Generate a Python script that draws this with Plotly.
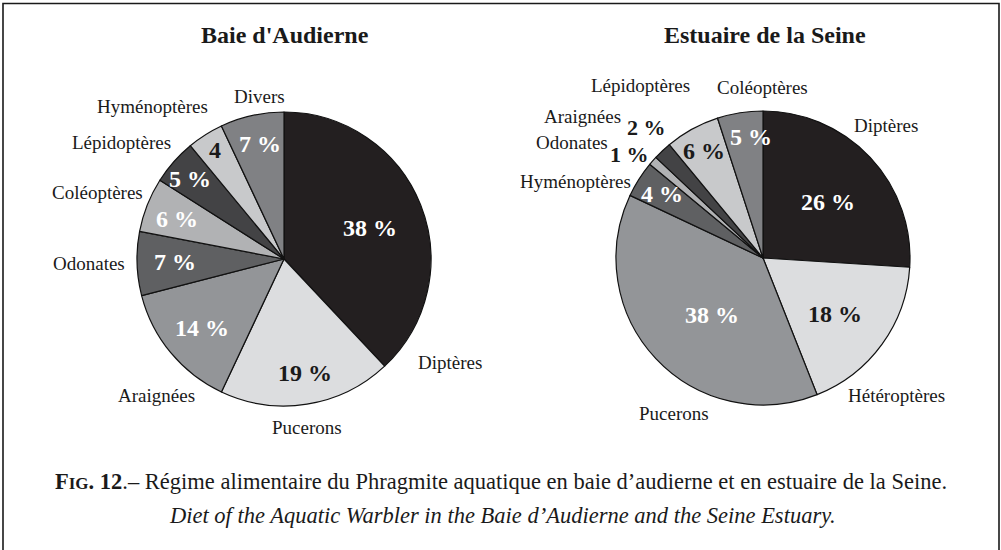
import math
import plotly.graph_objects as go

# ---------------- data ----------------
audierne_labels = ["Diptères", "Pucerons", "Araignées", "Odonates", "Coléoptères",
                   "Lépidoptères", "Hyménoptères", "Divers"]
audierne_values = [38, 19, 14, 7, 6, 5, 4, 7]
audierne_text = ["38 %", "19 %", "14 %", "7 %", "6 %", "5 %", "4", "7 %"]

seine_labels = ["Diptères", "Hétéroptères", "Pucerons", "Hyménoptères", "Odonates",
                "Araignées", "Lépidoptères", "Coléoptères"]
seine_values = [26, 18, 38, 4, 1, 2, 6, 5]
seine_text = ["26 %", "18 %", "38 %", "4 %", "1 %", "2 %", "6 %", "5 %"]

titles = ["Baie d'Audierne", "Estuaire de la Seine"]
caption_fr = ("<b>F<span style='font-size:17px'>IG</span>. 12</b>.– Régime alimentaire du Phragmite "
              "aquatique en baie d’audierne et en estuaire de la Seine.")
caption_en = "<i>Diet of the Aquatic Warbler in the Baie d’Audierne and the Seine Estuary.</i>"

# ---------------- style ----------------
W, H = 1001, 550
SERIF = "Liberation Serif, Times New Roman, serif"
palette = ["#231f20", "#dcdddf", "#939598", "#5f6062", "#b1b2b4", "#434345", "#c8c9cb", "#808184"]
WHITE, BLACK = "#ffffff", "#1a1a1a"

pies = [
    dict(labels=audierne_labels, values=audierne_values, text=audierne_text,
         center=(284, 259), radius=147, title_pos=(285, 35),
         text_colors=[WHITE, BLACK, WHITE, WHITE, WHITE, WHITE, BLACK, WHITE],
         text_sizes=[24] * 8,
         text_place=[(1.8, 0.62), (-1.4, 0.79), (-0.4, 0.73), (0, 0.74), (-1.1, 0.78),
                     (-1.0, 0.84), (0.1, 0.88), (0.9, 0.80)],
         label_place=[(53.6, 1.33), (1.3, 1.16), (-7.4, 1.27), (0.6, 1.33), (-1.9, 1.35),
                      (-5.7, 1.36), (-8.4, 1.37), (3.9, 1.12)]),
    dict(labels=seine_labels, values=seine_values, text=seine_text,
         center=(763, 258), radius=147, title_pos=(765, 35),
         text_colors=[WHITE, BLACK, WHITE, WHITE, BLACK, BLACK, BLACK, WHITE],
         text_sizes=[24, 24, 24, 24, 22, 22, 24, 24],
         text_place=[(2.5, 0.58), (1.6, 0.62), (-5.0, 0.52), (0, 0.81), (-3.5, 1.15),
                     (1.5, 1.19), (0, 0.83), (3.3, 0.83)],
         label_place=[(-3.8, 1.23), (9.8, 1.30), (-16.9, 1.22), (-10.1, 1.38), (-10.3, 1.52),
                      (-8.7, 1.56), (-6.6, 1.44), (8.7, 1.16)]),
]


def px(x, y):
    return x / W, 1 - y / H


fig = go.Figure()
annotations = []

for p in pies:
    cx, cy = p["center"]
    r = p["radius"]
    fig.add_trace(go.Pie(
        labels=p["labels"], values=p["values"], sort=False, direction="clockwise",
        rotation=0, textinfo="none", hoverinfo="label+value",
        marker=dict(colors=palette, line=dict(color="#111111", width=1.2)),
        domain=dict(x=[(cx - r) / W, (cx + r) / W], y=[1 - (cy + r) / H, 1 - (cy - r) / H]),
        showlegend=False,
    ))
    total = sum(p["values"])
    cum = 0
    for i, v in enumerate(p["values"]):
        mid = (cum + v / 2) / total * 360
        cum += v
        # percentage text
        da, f = p["text_place"][i]
        a = math.radians(mid + da)
        x, y = px(cx + f * r * math.sin(a), cy - f * r * math.cos(a))
        annotations.append(dict(x=x, y=y, xref="paper", yref="paper", showarrow=False,
                                text="<b>%s</b>" % p["text"][i],
                                font=dict(family=SERIF, size=p["text_sizes"][i],
                                          color=p["text_colors"][i]),
                                xanchor="center", yanchor="middle"))
        # category label
        da, f = p["label_place"][i]
        a = math.radians(mid + da)
        x, y = px(cx + f * r * math.sin(a), cy - f * r * math.cos(a))
        annotations.append(dict(x=x, y=y, xref="paper", yref="paper", showarrow=False,
                                text=p["labels"][i],
                                font=dict(family=SERIF, size=19, color=BLACK),
                                xanchor="center", yanchor="middle"))

for p, t in zip(pies, titles):
    x, y = px(*p["title_pos"])
    annotations.append(dict(x=x, y=y, xref="paper", yref="paper", showarrow=False,
                            text="<b>%s</b>" % t,
                            font=dict(family=SERIF, size=24, color=BLACK),
                            xanchor="center", yanchor="middle"))

x, y = px(501, 481)
annotations.append(dict(x=x, y=y, xref="paper", yref="paper", showarrow=False, text=caption_fr,
                        font=dict(family=SERIF, size=22.5, color=BLACK),
                        xanchor="center", yanchor="middle"))
x, y = px(502, 515)
annotations.append(dict(x=x, y=y, xref="paper", yref="paper", showarrow=False, text=caption_en,
                        font=dict(family=SERIF, size=22.5, color=BLACK),
                        xanchor="center", yanchor="middle"))

fig.update_layout(
    width=W, height=H,
    margin=dict(l=0, r=0, t=0, b=0),
    paper_bgcolor="white", plot_bgcolor="white",
    annotations=annotations,
    shapes=[dict(type="rect", xref="paper", yref="paper",
                 x0=3 / W, x1=999 / W, y0=-0.2, y1=1 - 3.5 / H,
                 line=dict(color="#1a1a1a", width=1.6))],
)

fig.write_html("out.html", config={"displayModeBar": False},
               post_script="document.body.style.margin='0';")
